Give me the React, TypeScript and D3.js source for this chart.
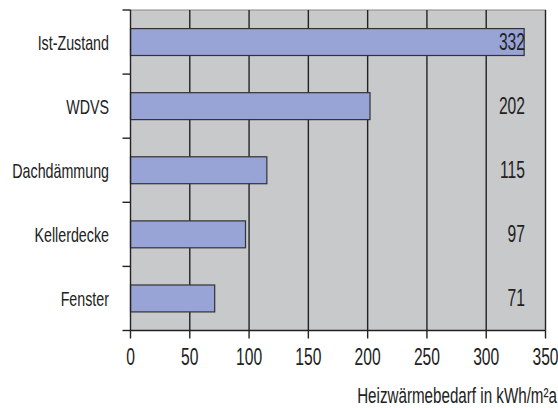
import { useEffect, useRef } from "react";
import * as d3 from "d3";

const categories = ["Ist-Zustand", "WDVS", "Dachdämmung", "Kellerdecke", "Fenster"];
const values = [332, 202, 115, 97, 71];
const xTicks = [0, 50, 100, 150, 200, 250, 300, 350];
const xLabel = "Heizwärmebedarf in kWh/m²a";

// condensed look: Liberation Sans squeezed horizontally
const SX = 0.68;
const font = "'Liberation Sans', Arial, sans-serif";

export default function App(): JSX.Element {
  const ref = useRef<SVGSVGElement | null>(null);

  useEffect(() => {
    if (!ref.current) return;
    const width = 558;
    const height = 408;
    const m = { left: 130.5, right: 545.5, top: 10, bottom: 330.5 };

    const x = d3.scaleLinear().domain([0, 350]).range([m.left, m.right]);
    const y = d3.scaleBand<string>().domain(categories).range([m.top, m.bottom]).paddingInner(0.58).paddingOuter(0.29);
    const band = d3.scaleBand<string>().domain(categories).range([m.top, m.bottom]);
    const at = (px: number, py: number, sx = SX) => `translate(${px},${py}) scale(${sx},1)`;

    const svg = d3.select(ref.current).attr("width", width).attr("height", height);
    svg.selectAll("*").remove();

    svg
      .append("rect")
      .attr("x", m.left)
      .attr("y", m.top)
      .attr("width", m.right - m.left)
      .attr("height", m.bottom - m.top)
      .attr("fill", "#c8c9cb")
      .attr("stroke", "#8a8a8a")
      .attr("stroke-width", 1);

    // vertical grid + right border
    svg
      .append("g")
      .selectAll("line")
      .data(xTicks.slice(1))
      .join("line")
      .attr("x1", (d) => x(d))
      .attr("x2", (d) => x(d))
      .attr("y1", m.top)
      .attr("y2", m.bottom)
      .attr("stroke", "#222")
      .attr("stroke-width", 1.4);

    // bars
    svg
      .append("g")
      .selectAll("rect")
      .data(values)
      .join("rect")
      .attr("x", x(0))
      .attr("y", (_, i) => y(categories[i])!)
      .attr("width", (d) => x(d) - x(0))
      .attr("height", y.bandwidth())
      .attr("fill", "#98a3d6")
      .attr("stroke", "#333")
      .attr("stroke-width", 1.2);

    // value labels
    svg
      .append("g")
      .selectAll("text")
      .data(values)
      .join("text")
      .attr("transform", (_, i) => at(525, band(categories[i])! + band.bandwidth() / 2 + 8))
      .attr("text-anchor", "end")
      .attr("font-family", font)
      .attr("font-size", 23)
      .attr("fill", "#222")
      .text((d) => String(d));

    // y axis
    const yTicks = [m.top, ...categories.map((c) => band(c)! + band.bandwidth())];
    svg
      .append("line")
      .attr("x1", m.left)
      .attr("x2", m.left)
      .attr("y1", m.top)
      .attr("y2", m.bottom)
      .attr("stroke", "#222")
      .attr("stroke-width", 1.4);
    svg
      .append("g")
      .selectAll("line")
      .data(yTicks)
      .join("line")
      .attr("x1", m.left - 8)
      .attr("x2", m.left)
      .attr("y1", (d) => d)
      .attr("y2", (d) => d)
      .attr("stroke", "#222")
      .attr("stroke-width", 1.4);
    svg
      .append("g")
      .selectAll("text")
      .data(categories)
      .join("text")
      .attr("transform", (d) => at(109, band(d)! + band.bandwidth() / 2 + 7.5))
      .attr("text-anchor", "end")
      .attr("font-family", font)
      .attr("font-size", 21)
      .attr("fill", "#222")
      .text((d) => d);

    // x axis
    svg
      .append("line")
      .attr("x1", m.left)
      .attr("x2", m.right)
      .attr("y1", m.bottom)
      .attr("y2", m.bottom)
      .attr("stroke", "#222")
      .attr("stroke-width", 1.4);
    svg
      .append("g")
      .selectAll("line")
      .data(xTicks)
      .join("line")
      .attr("x1", (d) => x(d))
      .attr("x2", (d) => x(d))
      .attr("y1", m.bottom)
      .attr("y2", m.bottom + 8)
      .attr("stroke", "#222")
      .attr("stroke-width", 1.4);
    svg
      .append("g")
      .selectAll("text")
      .data(xTicks)
      .join("text")
      .attr("transform", (d) => at(x(d), 365))
      .attr("text-anchor", "middle")
      .attr("font-family", font)
      .attr("font-size", 23)
      .attr("fill", "#222")
      .text((d) => String(d));

    svg
      .append("text")
      .attr("transform", at(557, 403, 0.69))
      .attr("text-anchor", "end")
      .attr("font-family", font)
      .attr("font-size", 22)
      .attr("fill", "#222")
      .text(xLabel);
  }, []);

  return (
    <div style={{ position: "absolute", left: 0, top: 0 }}>
      <svg ref={ref} style={{ display: "block" }} />
    </div>
  );
}
